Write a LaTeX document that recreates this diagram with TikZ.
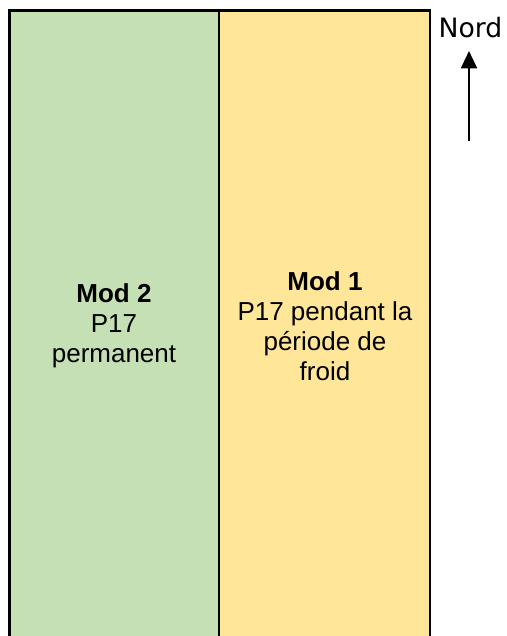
\documentclass[tikz,border=0pt]{standalone}
\usepackage{fontspec}
\setmainfont{Liberation Sans}
\newfontfamily\nordfont{DejaVu Sans}
\usepackage{tikz}
\usetikzlibrary{arrows.meta}
\definecolor{vertclair}{HTML}{C5E0B4}
\definecolor{jauneclair}{HTML}{FFE699}
\tikzset{
    zone/.style={draw=black, line width=1.8pt},
    modtext/.style={align=center, font=\fontsize{19.5}{22.5}\selectfont},
    nord/.style={font=\nordfont\fontsize{20}{24}\selectfont, inner sep=0pt, anchor=base},
    fleche/.style={line width=1.5pt, -{Triangle[length=13pt,width=12pt]}},
}

\begin{document}
\begin{tikzpicture}[x=0.75pt, y=-0.75pt]
\useasboundingbox (0,0) rectangle (507,636);
	\filldraw[zone, fill=vertclair](9.5,10.5) rectangle (219,642);
	\filldraw[zone, fill=jauneclair](219,10.5) rectangle (430,642);
	\node[modtext] (mod2) at (114,326) {\textbf{Mod 2}\\P17\\permanent};
	\node[modtext] (mod1) at (325,326) {\textbf{Mod 1}\\P17 pendant la\\période de\\froid};
	\node[nord] (nordlabel) at (470.5,37.7) {Nord};
	\coordinate (queue) at (469,141);
	\coordinate (pointe) at (469,51);
	\draw[fleche](queue) -- (pointe);
\end{tikzpicture}
\end{document}
